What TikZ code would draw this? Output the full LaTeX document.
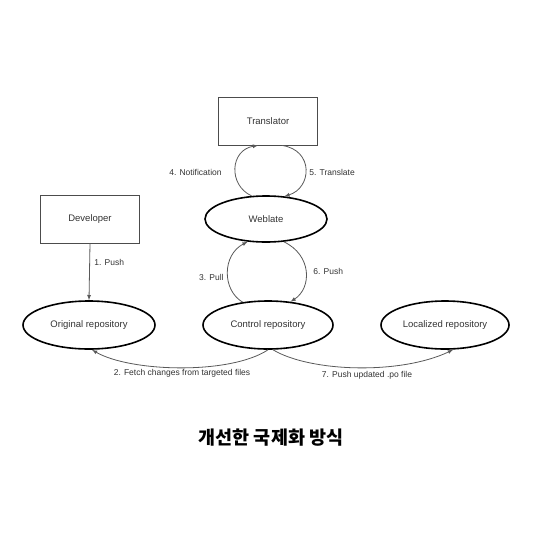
\documentclass[tikz,border=0pt]{standalone}
\usepackage{fontspec}
\setmainfont{Liberation Sans}
\newfontfamily\krfont{Noto Sans CJK KR}
\usetikzlibrary{calc,shapes.geometric}

\begin{document}
\begin{tikzpicture}[x=1pt,y=-1pt,line width=0.8pt,
	boite/.style={draw=black!70,line width=0.9pt,minimum width=99pt,minimum height=48pt,font=\fontsize{9.5}{11}\selectfont,text=black!80},
	ovale/.style={draw,ellipse,line width=1.6pt,minimum width=130pt,minimum height=48pt,inner sep=0pt,font=\fontsize{9.5}{11}\selectfont,text=black!80},
	fl/.style={draw=black!65,-latex},
	lab/.style={font=\fontsize{8.5}{10}\selectfont,text=black!80,inner sep=1pt}]
\useasboundingbox (0,0) rectangle (534,533);

% NOEUDS
\node[boite] (trad) at (268,121) {Translator};
\node[ovale,minimum width=122pt,minimum height=46pt] (web) at (266,219) {Weblate};
\node[boite] (dev) at (90,219) {Developer};
\node[ovale,minimum width=132pt] (orig) at (89,325) {Original repository};
\node[ovale] (ctrl) at (268,325) {Control repository};
\node[ovale,minimum width=128pt] (loc) at (445,325) {Localized repository};

%1
\draw[fl] (dev.south)--(orig.north);
\node[lab,anchor=west] (l1) at (93,262) {1. Push};

%4 et 5
\draw[fl] (web.122) .. controls (228,185) and (230,150) .. ($(trad.south)+(-10,0)$);
\node[lab,anchor=east] (l4) at (223,172) {4. Notification};
\draw[fl] ($(trad.south)+(14,0)$) .. controls (314,150) and (312,188) .. (web.51);
\node[lab,anchor=west] (l5) at (308,172) {5. Translate};

%3 et 6
\draw[fl] (ctrl.138) .. controls (222,290) and (222,255) .. (web.231);
\node[lab,anchor=east] (l3) at (225,277) {3. Pull};
\draw[fl] (web.308) .. controls (312,255) and (312,288) .. (ctrl.46);
\node[lab,anchor=west] (l6) at (312,271) {6. Push};

%2
\draw[fl] (ctrl.south) .. controls (230,375) and (130,372) .. ($(orig.south)+(3,0)$);
\node[lab] (l2) at (182,373) {2. Fetch changes from targeted files};

%7
\draw[fl] ($(ctrl.south)+(5,0)$) .. controls (310,372) and (400,375) .. ($(loc.south)+(8,0)$);
\node[lab] (l7) at (367,375) {7. Push updated .po file};

% LEGENDE
\node[font=\krfont\bfseries\fontsize{18.5}{22}\selectfont] (titre) at (271,438) {개선한 국제화 방식};

\end{tikzpicture}
\end{document}
